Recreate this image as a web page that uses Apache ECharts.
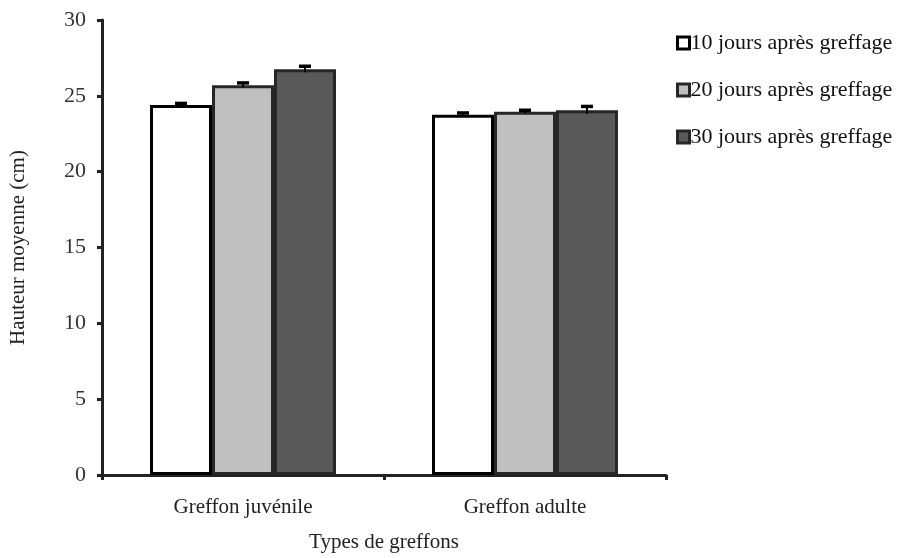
<!DOCTYPE html>
<html><head><meta charset="utf-8">
<script src="https://cdn.jsdelivr.net/npm/echarts@6/dist/echarts.min.js"></script>
<style>html,body{margin:0;padding:0;background:#fff;width:100%;height:100%;overflow:hidden}#c{width:100vw;height:100vh}</style>
</head><body><div id="c"></div>
<script>
var categories = ['Greffon juvénile', 'Greffon adulte'];
var seriesNames = ['10 jours après greffage', '20 jours après greffage', '30 jours après greffage'];
var values10 = [24.4, 23.75];
var values20 = [25.7, 23.95];
var values30 = [26.75, 24.05];
var errors10 = [0.1, 0.12];
var errors20 = [0.15, 0.1];
var errors30 = [0.2, 0.25];
var yTicks = [0, 5, 10, 15, 20, 25, 30];

var fills = ['#ffffff', '#bfbfbf', '#595959'];
var borders = ['#000000', '#262626', '#262626'];
var allValues = [values10, values20, values30];
var allErrors = [errors10, errors20, errors30];
var FONT = 'Liberation Serif';
var BAR_W = 62;

var series = [];
allValues.forEach(function (vals, i) {
  series.push({
    name: seriesNames[i], type: 'bar', data: vals, barWidth: BAR_W, barGap: '0%',
    itemStyle: { color: fills[i], borderColor: borders[i], borderWidth: 3 }
  });
});
allValues.forEach(function (vals, i) {
  var data = vals.map(function (v, k) { return [k, v, allErrors[i][k]]; });
  series.push({
    type: 'custom', data: data, silent: true, z: 5,
    renderItem: function (params, api) {
      var k = api.value(0), v = api.value(1), e = api.value(2);
      var c = api.coord([k, v]);
      var cx = c[0] + (i - 1) * BAR_W;
      var top = api.coord([k, v + e])[1];
      var bot = api.coord([k, v - e])[1];
      return { type: 'group', children: [
        { type: 'line', shape: { x1: cx, y1: top, x2: cx, y2: bot }, style: { stroke: '#000', lineWidth: 2 } },
        { type: 'line', shape: { x1: cx - 6, y1: top, x2: cx + 6, y2: top }, style: { stroke: '#000', lineWidth: 3.5 } }
      ]};
    }
  });
});

var chart = echarts.init(document.getElementById('c'));
chart.setOption({
  backgroundColor: '#fff',
  animation: false,
  textStyle: { fontFamily: FONT },
  grid: { left: 101, right: 240, top: 20, bottom: 74, containLabel: false },
  legend: {
    data: seriesNames, orient: 'vertical', left: 671, top: 27, itemGap: 25,
    itemWidth: 12, itemHeight: 12, icon: 'rect',
    itemStyle: { borderWidth: 3 },
    textStyle: { fontFamily: FONT, fontSize: 22, lineHeight: 22, color: '#111', padding: [0, 0, 0, -4] }
  },
  xAxis: {
    type: 'category', data: categories,
    name: 'Types de greffons', nameLocation: 'middle', nameGap: 57,
    nameTextStyle: { fontFamily: FONT, fontSize: 21, color: '#222' },
    axisLine: { lineStyle: { color: '#222', width: 3 } },
    axisTick: { show: true, length: 5, lineStyle: { width: 3, color: '#222' } },
    axisLabel: { fontFamily: FONT, fontSize: 21, color: '#222', margin: 22 }
  },
  yAxis: {
    type: 'value', min: 0, max: 30, interval: 5,
    name: 'Hauteur moyenne (cm)', nameLocation: 'middle', nameGap: 73, nameRotate: 90,
    nameTextStyle: { fontFamily: FONT, fontSize: 21, color: '#222' },
    splitLine: { show: false },
    axisLine: { show: true, lineStyle: { color: '#222', width: 3 } },
    axisTick: { show: true, length: 5, lineStyle: { width: 3, color: '#222' } },
    axisLabel: { fontFamily: FONT, fontSize: 22, color: '#333', margin: 16,
      formatter: function (v) { return yTicks.indexOf(v) >= 0 ? String(v) : ''; } }
  },
  series: series
});
</script></body></html>
